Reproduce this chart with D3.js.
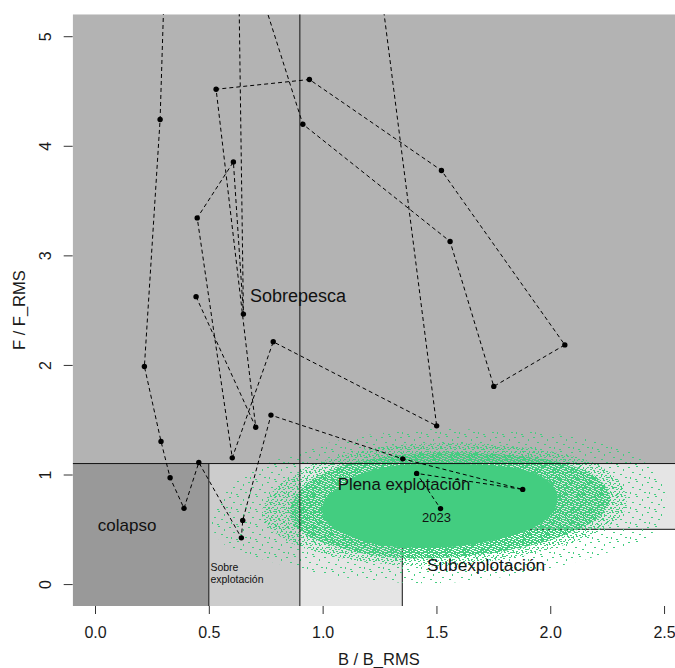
<!DOCTYPE html>
<html><head><meta charset="utf-8">
<script src="https://cdn.jsdelivr.net/npm/d3@7"></script>
<style>body{margin:0;background:#fff} svg{display:block}</style>
</head><body><svg id="c" width="675" height="668"></svg>
<script>
// ---- data ----
const years  = [1994,1995,1996,1997,1998,1999,2000,2001,2002,2003,2004,2005,2006,2007,2008,2009,2010,2011,2012,2013,2014,2015,2016,2017,2018,2019,2020,2021,2022,2023];
const bRatio = [0.444,0.706,0.532,0.942,1.522,2.064,1.752,1.560,0.913,0.628,0.652,0.608,0.449,0.603,0.783,1.501,0.490,0.286,0.217,0.290,0.330,0.391,0.456,0.643,0.649,0.773,1.352,1.879,1.413,1.518];
const fRatio = [2.623,1.432,4.516,4.605,3.775,2.183,1.804,3.127,4.197,6.060,2.464,3.853,3.342,1.152,2.211,1.444,17.90,4.240,1.986,1.302,0.970,0.691,1.110,0.422,0.581,1.542,1.143,0.864,1.010,0.689];
const xTicks = [0,0.5,1,1.5,2,2.5];
const yTicks = [0,1,2,3,4,5];
const fLim = 1.1, fLow = 0.5, bLim = 0.5, bRms = 0.9, bHigh = 1.35;
// uncertainty cloud outlines (B/BRMS, F/FRMS), sparse -> solid
const cloudOuterB = [0.514,0.558,0.681,0.857,1.076,1.384,1.736,2.087,2.351,2.483,2.509,2.439,2.219,1.911,1.604,1.296,0.989,0.747,0.571];
const cloudOuterF = [0.538,0.812,1.022,1.177,1.314,1.405,1.405,1.350,1.204,0.949,0.657,0.447,0.265,0.109,0.018,0.018,0.100,0.219,0.356];
const cloudMidB = [0.734,0.778,0.892,1.054,1.252,1.516,1.779,2.021,2.210,2.315,2.333,2.254,2.087,1.823,1.516,1.230,0.989,0.822];
const cloudMidF = [0.630,0.839,1.022,1.159,1.250,1.286,1.268,1.204,1.086,0.903,0.693,0.529,0.374,0.237,0.164,0.192,0.283,0.420];
const cloudDenseB = [0.857,0.923,1.054,1.296,1.560,1.867,2.087,2.219,2.263,2.210,2.065,1.823,1.516,1.252,1.033,0.901];
const cloudDenseF = [0.675,0.903,1.058,1.168,1.204,1.168,1.086,0.949,0.766,0.602,0.447,0.310,0.237,0.255,0.356,0.493];
const cloudCoreB = [1.000,1.060,1.160,1.300,1.516,1.730,1.870,1.980,2.030,2.020,1.960,1.830,1.648,1.440,1.230,1.080,1.010];
const cloudCoreF = [0.721,0.870,1.000,1.075,1.095,1.085,1.050,0.960,0.830,0.680,0.555,0.440,0.360,0.330,0.365,0.475,0.590];

// ---- layout ----
const L=72.7, R=685, T=14.3, B=606;
const xmin=-0.098, xmax=2.592, ymin=-0.2, ymax=5.2;
const x = d3.scaleLinear().domain([xmin,xmax]).range([L,R]);
const y = d3.scaleLinear().domain([ymin,ymax]).range([B,T]);
const FONT = "'Liberation Sans', Arial, Helvetica, sans-serif";
const GREEN = "#43CD80";

const svg = d3.select('#c').style('font-family', FONT);
const defs = svg.append('defs');
defs.append('clipPath').attr('id','plotclip').append('rect')
  .attr('x',L).attr('y',T).attr('width',R-L).attr('height',B-T);

function pattern(id,w,h,marks){
  const p = defs.append('pattern').attr('id',id).attr('patternUnits','userSpaceOnUse')
    .attr('width',w).attr('height',h);
  marks.forEach(m=>p.append('rect').attr('x',m[0]).attr('y',m[1]).attr('width',m[2]).attr('height',m[3]).attr('fill',GREEN));
}
pattern('sparse',19,15,[[1,2,2,1],[9,1,2,1],[15,4,1,2],[5,7,2,1],[12,9,2,1],[17,12,2,1],[3,12,1,2],[8,14,2,1]]);
pattern('mid',9,8,[[0,0,2,1],[4,1,2,1],[7,3,1,2],[2,3,2,1],[5,5,2,1],[0,6,1,2],[3,7,2,1],[6,0,1,1],[1,4,1,1],[8,6,1,1]]);
pattern('dense',6,5,[[0,0,4,1],[3,1,3,1],[0,2,3,1],[4,2,2,1],[1,3,3,1],[0,4,2,1],[4,4,2,1]]);

const plot = svg.append('g').attr('clip-path','url(#plotclip)');

function zone(b0,b1,f0,f1,fill){
  plot.append('rect').attr('x',x(b0)).attr('y',y(f1))
    .attr('width',x(b1)-x(b0)).attr('height',y(f0)-y(f1)).attr('fill',fill);
}
zone(xmin,xmax,fLim,ymax,'#b3b3b3');
zone(xmin,bLim,ymin,fLim,'#999999');
zone(bLim,bRms,ymin,fLim,'#cccccc');
zone(bRms,xmax,fLow,fLim,'#e5e5e5');
zone(bRms,bHigh,ymin,fLow,'#e5e5e5');

function seg(b0,f0,b1,f1){
  plot.append('line').attr('x1',x(b0)).attr('y1',y(f0)).attr('x2',x(b1)).attr('y2',y(f1))
    .attr('stroke','#111').attr('stroke-width',1);
}
seg(bHigh,fLow,xmax,fLow);
seg(bHigh,ymin,bHigh,fLow);

// cloud
const poly = d3.line().x(d=>x(d[0])).y(d=>y(d[1])).curve(d3.curveCatmullRomClosed);
plot.append('path').attr('d',poly(d3.zip(cloudOuterB,cloudOuterF))).attr('fill','url(#sparse)');
plot.append('path').attr('d',poly(d3.zip(cloudMidB,cloudMidF))).attr('fill','url(#mid)');
plot.append('path').attr('d',poly(d3.zip(cloudDenseB,cloudDenseF))).attr('fill','url(#dense)');
plot.append('path').attr('d',poly(d3.zip(cloudCoreB,cloudCoreF))).attr('fill',GREEN);

seg(xmin,fLim,xmax,fLim);
seg(bRms,ymin,bRms,ymax);
seg(bLim,ymin,bLim,fLim);

// trajectory
const pts = d3.zip(bRatio,fRatio,years);
plot.append('path').attr('d',d3.line().x(d=>x(d[0])).y(d=>y(d[1]))(pts))
  .attr('fill','none').attr('stroke','#000').attr('stroke-width',1).attr('stroke-dasharray','4,3');
plot.selectAll('circle.pt').data(pts).join('circle').attr('class','pt')
  .attr('cx',d=>x(d[0])).attr('cy',d=>y(d[1])).attr('r',2.7).attr('fill','#000');

// labels
function lab(t,b,f,size,anchor){
  plot.append('text').attr('x',x(b)).attr('y',y(f)).attr('font-size',size)
    .attr('text-anchor',anchor||'middle').attr('fill','#111').text(t);
}
lab('Sobrepesca',0.892,2.573,18);
lab('colapso',0.141,0.484,17);
lab('Sobre',0.507,0.123,10.5,'start');
lab('explotación',0.507,0.014,10.5,'start');
lab('Plena explotación',1.358,0.858,16.8);
lab('Subexplotación',1.718,0.119,17.3);
const last = pts[pts.length-1];
plot.append('text').attr('x',x(last[0])-4).attr('y',y(last[1])+13).attr('font-size',13)
  .attr('text-anchor','middle').attr('fill','#111').text(last[2]);

// axes
const gx = svg.append('g').attr('transform',`translate(0,${B})`)
  .call(d3.axisBottom(x).tickValues(xTicks).tickFormat(d3.format('.1f')).tickSize(8));
gx.select('.domain').remove();
gx.selectAll('line').attr('stroke','#333');
gx.selectAll('text').attr('dy',null).attr('y',32).attr('font-size',16).attr('fill','#1a1a1a').attr('font-family',FONT);

const gy = svg.append('g').attr('transform',`translate(${L},0)`)
  .call(d3.axisLeft(y).tickValues(yTicks).tickFormat(d3.format('d')).tickSize(9));
gy.select('.domain').remove();
gy.selectAll('line').attr('stroke','#333');
gy.selectAll('text').attr('x',0).attr('dy',null).attr('y',-22).attr('transform','rotate(-90)')
  .attr('text-anchor','middle').attr('font-size',16).attr('fill','#1a1a1a').attr('font-family',FONT);

svg.append('text').attr('x',(L+R)/2).attr('y',665).attr('text-anchor','middle')
  .attr('font-size',16.5).attr('fill','#1a1a1a').text('B / B_RMS');
svg.append('text').attr('transform',`translate(25,${(T+B)/2}) rotate(-90)`).attr('text-anchor','middle')
  .attr('font-size',16.5).attr('fill','#1a1a1a').text('F / F_RMS');
</script></body></html>
